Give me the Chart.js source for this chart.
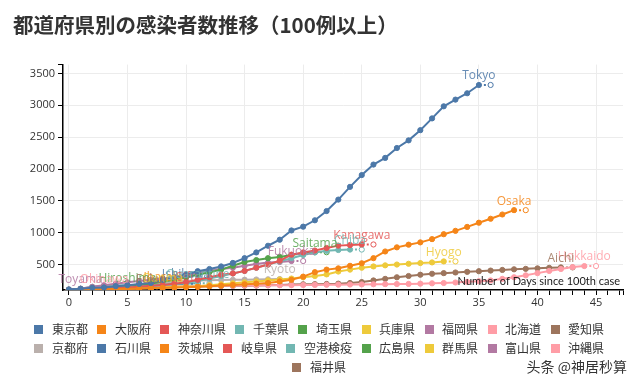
<!DOCTYPE html>
<html>
<head>
<meta charset="utf-8">
<script src="https://cdn.jsdelivr.net/npm/chart.js@4.4.1/dist/chart.umd.min.js"></script>
<style>
    html, body { margin: 0; padding: 0; background: #fff; }
    #wrap { position: relative; width: 640px; height: 386px; }
    #mark {
        position: absolute; right: 13px; top: 356px; line-height: 20px;
        font: 14px "Noto Sans CJK SC"; color: #333;
        text-shadow: 0 0 2px #fff, 0 0 2px #fff;
    }
</style>
</head>
<body>
<div id="wrap">
    <canvas id="chart" width="640" height="386"></canvas>
    <div id="mark">头条 @神居秒算</div>
</div>
<script>
// prefectures, in legend order
const prefNames = ['東京都', '大阪府', '神奈川県', '千葉県', '埼玉県', '兵庫県', '福岡県', '北海道', '愛知県',
    '京都府', '石川県', '茨城県', '岐阜県', '空港検疫', '広島県', '群馬県', '富山県', '沖縄県', '福井県'];
const prefTags = ['Tokyo', 'Osaka', 'Kanagawa', 'Chiba', 'Saitama', 'Hyogo', 'Fukuoka', 'Hokkaido', 'Aichi',
    'Kyoto', 'Ishikawa', 'Ibaraki', 'Gifu', 'Quarantine', 'Hiroshima', 'Gunma', 'Toyama', 'Okinawa', 'Fukui'];
const colors = ['#4c78a8', '#f58518', '#e45756', '#72b7b2', '#54a24b', '#eeca3b', '#b279a2', '#ff9da6', '#9d755d',
    '#bab0ac', '#4c78a8', '#f58518', '#e45756', '#72b7b2', '#54a24b', '#eeca3b', '#b279a2', '#ff9da6', '#9d755d'];

// cumulative cases, one value per day since the 100th case
const tokyo = [110, 120, 135, 140, 160, 175, 195, 210, 260, 300, 345, 395, 430, 470, 525, 600, 690, 795, 890, 1035,
    1095, 1195, 1340, 1520, 1720, 1905, 2070, 2175, 2330, 2450, 2610, 2795, 2985, 3090, 3190, 3320];
const osaka = [100, 105, 110, 113, 116, 120, 125, 130, 135, 140, 145, 150, 160, 170, 180, 190, 200, 210, 235, 260,
    310, 380, 420, 440, 480, 520, 600, 705, 770, 812, 848, 899, 976, 1029, 1091, 1157, 1219, 1286, 1354];
const kanagawa = [105, 110, 120, 125, 130, 140, 150, 165, 180, 200, 220, 260, 300, 340, 360, 400, 450, 500, 560, 655,
    690, 720, 760, 797, 806, 815];
const chiba = [100, 105, 115, 120, 130, 140, 150, 160, 175, 190, 210, 240, 280, 320, 360, 400, 450, 500, 550, 600,
    650, 690, 715, 728, 735];
const saitama = [100, 110, 120, 135, 150, 165, 180, 200, 230, 260, 300, 340, 380, 420, 480, 540, 570, 600, 620, 650,
    680, 693];
const hyogo = [100, 105, 110, 115, 120, 125, 130, 135, 140, 150, 155, 160, 175, 190, 205, 220, 235, 250, 265, 280,
    300, 320, 345, 390, 420, 450, 470, 487, 500, 512, 523, 533, 549];
const fukuoka = [100, 120, 150, 175, 200, 220, 240, 260, 280, 300, 330, 370, 410, 430, 450, 480, 510, 530, 540, 555];
const hokkaido = [100, 110, 120, 130, 140, 145, 150, 155, 155, 160, 160, 162, 165, 167, 168, 170, 172, 174, 175, 176,
    178, 180, 182, 184, 186, 188, 190, 192, 194, 196, 200, 205, 210, 218, 228, 238, 250, 275, 300, 330,
    365, 400, 430, 460, 476];
const aichi = [100, 105, 110, 115, 120, 125, 130, 135, 140, 145, 150, 155, 160, 162, 165, 168, 170, 175, 180, 185,
    190, 192, 195, 200, 210, 225, 250, 275, 300, 320, 340, 355, 365, 375, 385, 395, 405, 415, 425, 432,
    440, 448, 455];
const kyoto = [100, 110, 125, 140, 155, 170, 185, 200, 215, 230, 240, 250, 255, 258, 260, 262, 265, 268, 272];
const ishikawa = [100, 108, 115, 125, 135, 145, 155, 165, 175, 190, 200];
const ibaraki = [100, 105, 110, 115, 120, 125, 130, 140, 150];
const gifu = [100, 105, 110, 115, 120, 125, 130, 135, 140, 145, 150];
const quarantine = [100, 120, 150, 165, 170, 175, 180, 185, 190, 195, 200, 205];
const hiroshima = [100, 110, 120, 125, 130, 135];
const gunma = [100, 105, 110, 115, 120, 125, 130, 135, 140];
const toyama = [105, 120];
const okinawa = [100, 110, 120, 130];
const fukui = [100, 105, 110, 112, 115, 118, 120, 122];

const series = [tokyo, osaka, kanagawa, chiba, saitama, hyogo, fukuoka, hokkaido, aichi,
    kyoto, ishikawa, ibaraki, gifu, quarantine, hiroshima, gunma, toyama, okinawa, fukui];

const yTicks = [500, 1000, 1500, 2000, 2500, 3000, 3500];
const xLabels = [0, 5, 10, 15, 20, 25, 30, 35, 40, 45];
const yMin = 100, yMax = 3640;
const xMin = -0.5, xMax = 47.3;
const xTitle = 'Number of Days since 100th case';
const chartTitle = '都道府県別の感染者数推移（100例以上）';

function swatch(color) {
    const c = document.createElement('canvas');
    c.width = 9;
    c.height = 9;
    const g = c.getContext('2d');
    g.fillStyle = color;
    g.fillRect(0, 0, 9, 9);
    return c;
}

function makeSet(i) {
    const values = series[i];
    const n = values.length;
    const pts = values.map((v, d) => ({x: d, y: v}));
    // dotted stub to the next day, ending in an open circle
    pts.push({x: n, y: values[n - 1]});
    return {
        label: prefNames[i],
        tag: prefTags[i],
        data: pts,
        borderColor: colors[i],
        backgroundColor: colors[i],
        borderWidth: 2,
        pointRadius: 2.6,
        pointBorderWidth: 1,
        pointBorderColor: colors[i],
        pointBackgroundColor: pts.map((p, k) => k === n ? '#fff' : colors[i]),
        segment: {
            borderDash: c => c.p1DataIndex === n ? [2, 3] : undefined
        }
    };
}

const endLabels = {
    id: 'endLabels',
    afterDatasetsDraw(chart) {
        const {ctx, chartArea} = chart;
        ctx.save();
        ctx.font = '12px "Open Sans"';
        ctx.textAlign = 'center';
        ctx.textBaseline = 'bottom';
        ctx.globalAlpha = 0.85;
        chart.data.datasets.forEach((ds, i) => {
            const meta = chart.getDatasetMeta(i);
            const pt = meta.data[meta.data.length - 2];
            ctx.fillStyle = ds.borderColor;
            ctx.fillText(ds.tag, pt.x, pt.y - 3);
        });
        ctx.globalAlpha = 1;
        ctx.fillStyle = '#1a1a1a';
        ctx.font = '11px Lato';
        ctx.textAlign = 'right';
        ctx.fillText(xTitle, chartArea.right - 3, chartArea.bottom - 3);
        ctx.restore();
    }
};

const tickFont = {family: '"Open Sans"', size: 11};
const gridColor = '#ececec';

new Chart(document.getElementById('chart'), {
    type: 'line',
    data: {datasets: series.map((_, i) => makeSet(i))},
    options: {
        responsive: false,
        animation: false,
        layout: {padding: {left: 13, right: 17, top: 0, bottom: 3}},
        plugins: {
            title: {
                display: true,
                text: chartTitle,
                align: 'start',
                color: '#333',
                font: {family: '"Noto Sans CJK JP"', size: 20.5, weight: 'bold'},
                padding: {top: 13, bottom: 27}
            },
            legend: {
                position: 'bottom',
                labels: {
                    usePointStyle: true,
                    pointStyleWidth: 14,
                    boxHeight: 9,
                    padding: 7,
                    color: '#333',
                    font: {family: '"Noto Sans CJK JP"', size: 12},
                    generateLabels: chart => Chart.defaults.plugins.legend.labels.generateLabels(chart)
                        .map(l => Object.assign(l, {pointStyle: swatch(colors[l.datasetIndex]), lineWidth: 0}))
                }
            },
            tooltip: {enabled: false}
        },
        scales: {
            x: {
                type: 'linear',
                min: xMin,
                max: xMax,
                border: {color: '#000', width: 1.5},
                grid: {
                    color: c => (c.tick && xLabels.includes(c.tick.value)) ? gridColor : 'rgba(0,0,0,0)',
                    tickColor: '#000',
                    tickLength: 5
                },
                ticks: {
                    autoSkip: false,
                    maxRotation: 0,
                    padding: 1,
                    color: '#333',
                    font: tickFont,
                    callback: v => xLabels.includes(v) ? String(v) : ''
                },
                // a tick mark on every day, plus a cap at the axis end
                afterBuildTicks: s => {
                    const t = [];
                    for (let d = 0; d <= Math.floor(xMax); d++) t.push({value: d});
                    t.push({value: xMax});
                    s.ticks = t;
                },
                afterFit: s => { s.height = 26; }
            },
            y: {
                min: yMin,
                max: yMax,
                border: {color: '#000', width: 1.5},
                grid: {
                    color: c => (c.tick && yTicks.includes(c.tick.value)) ? gridColor : 'rgba(0,0,0,0)',
                    tickColor: '#000',
                    tickLength: 5
                },
                ticks: {
                    padding: 3,
                    color: '#333',
                    font: tickFont,
                    callback: v => yTicks.includes(v) ? String(v) : ''
                },
                afterBuildTicks: s => {
                    s.ticks = yTicks.map(v => ({value: v})).concat([{value: yMax}]);
                },
                afterFit: s => { s.width = 50; }
            }
        }
    },
    plugins: [endLabels]
});
</script>
</body>
</html>
